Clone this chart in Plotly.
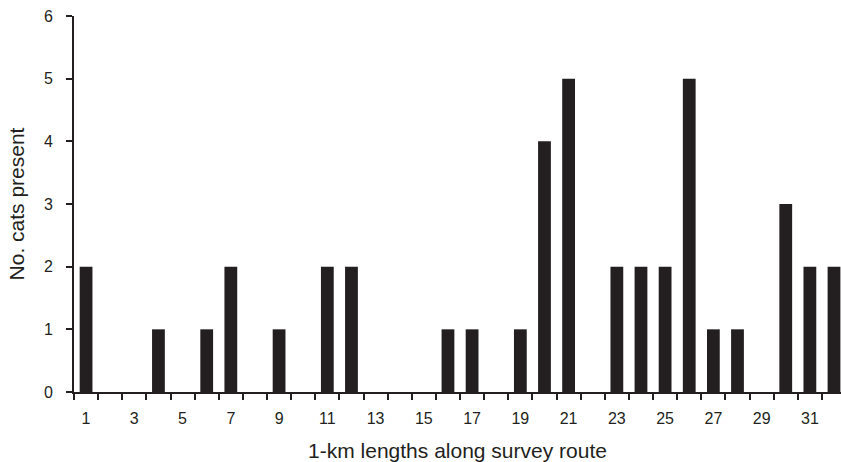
import plotly.graph_objects as go

segments = list(range(1, 33))
cats = [2, 0, 0, 1, 0, 1, 2, 0, 1, 0, 2, 2, 0, 0, 0, 1, 1, 0, 1, 4, 5, 0, 2, 2, 2, 5, 1, 1, 0, 3, 2, 2]
x_tick_vals = list(range(1, 33, 2))
y_tick_vals = [0, 1, 2, 3, 4, 5, 6]

fig = go.Figure(go.Bar(x=segments, y=cats, width=0.53, marker=dict(color="#231f20", line=dict(width=0))))

ink = "#231f20"
fig.update_layout(
    width=841, height=462,
    margin=dict(l=74, r=0, t=16, b=70, autoexpand=False),
    plot_bgcolor="white", paper_bgcolor="white",
    font=dict(family="Liberation Sans, Arial, sans-serif", color=ink, size=15),
    showlegend=False,
    xaxis=dict(
        range=[0.5, 32.29], tickvals=x_tick_vals, ticktext=[str(v) for v in x_tick_vals],
        ticks="outside", ticklen=0, ticklabelstandoff=11,
        minor=dict(tickvals=[v + 0.5 for v in range(0, 33)], ticks="outside", ticklen=6, tickwidth=2, tickcolor=ink),
        showline=True, linewidth=2, linecolor=ink, showgrid=False, zeroline=False,
        automargin=False,
        title=dict(text="1-km lengths along survey route", font=dict(size=21), standoff=18),
        tickfont=dict(size=16),
    ),
    yaxis=dict(
        range=[0, 6], tickvals=y_tick_vals, ticks="outside", ticklen=6, tickwidth=2, tickcolor=ink,
        showline=True, linewidth=2, linecolor=ink, showgrid=False, zeroline=False,
        automargin=False,
        ticklabelstandoff=10,
        title=dict(text="No. cats present", font=dict(size=21), standoff=14),
        tickfont=dict(size=16),
    ),
)

fig.write_html(
    "out.html",
    config={"displayModeBar": False, "staticPlot": True},
    post_script="document.body.style.margin='0';document.body.style.overflow='hidden';",
)
